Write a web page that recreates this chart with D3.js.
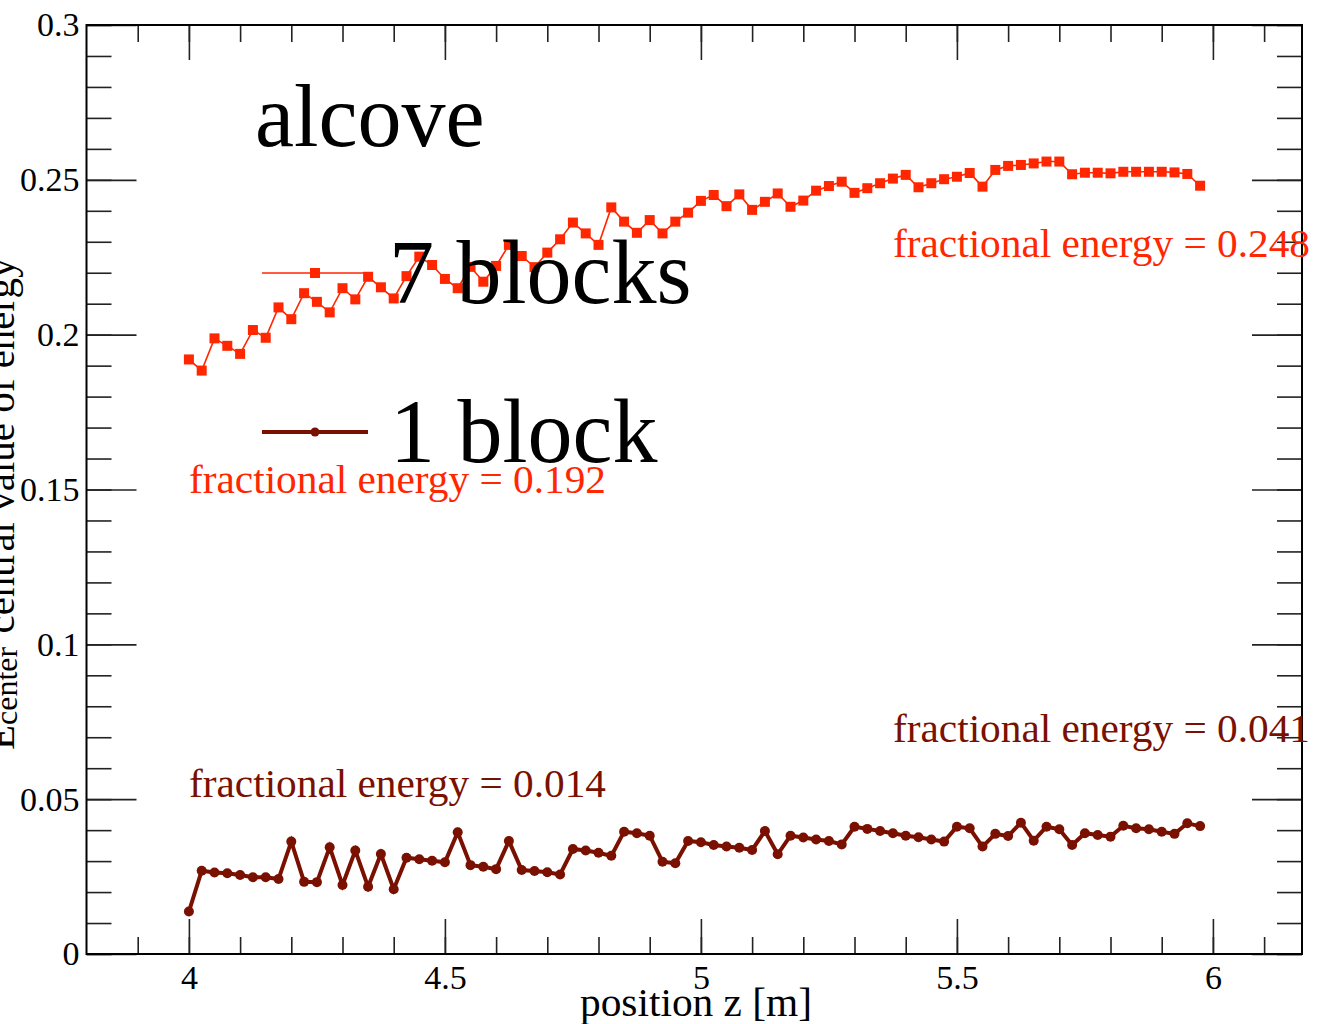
<!DOCTYPE html>
<html>
<head>
<meta charset="utf-8">
<script src="https://cdn.jsdelivr.net/npm/d3@7"></script>
<style>
  body { margin: 0; background: #fff; }
  text { font-family: "Liberation Serif", "Times New Roman", serif; }
  .axis path { display: none; }
  .axis line { stroke: #222; stroke-width: 1.6; }
  .axis text { font-size: 34px; fill: #000; font-family: "Liberation Serif", serif; }
</style>
</head>
<body>
<div id="chart"></div>
<script>
// positions z [m], one point every 0.025 m
const zPos = d3.range(80).map(i => 4 + i * 0.025);

// 7 blocks, central value of energy
const sevenBlocks = [
  0.1920, 0.1884, 0.1988, 0.1964, 0.1938, 0.2015, 0.1990, 0.2088, 0.2050, 0.2134,
  0.2106, 0.2072, 0.2150, 0.2114, 0.2187, 0.2153, 0.2117, 0.2189, 0.2252, 0.2225,
  0.2180, 0.2150, 0.2219, 0.2171, 0.2222, 0.2290, 0.2254, 0.2218, 0.2265, 0.2308,
  0.2362, 0.2327, 0.2290, 0.2411, 0.2365, 0.2329, 0.2370, 0.2327, 0.2365, 0.2394,
  0.2432, 0.2451, 0.2415, 0.2453, 0.2403, 0.2429, 0.2456, 0.2413, 0.2433, 0.2465,
  0.2480, 0.2494, 0.2458, 0.2473, 0.2489, 0.2504, 0.2516, 0.2476, 0.2489, 0.2502,
  0.2510, 0.2522, 0.2478, 0.2532, 0.2545, 0.2548, 0.2553, 0.2559, 0.2559, 0.2518,
  0.2523, 0.2523, 0.2521, 0.2526, 0.2526, 0.2526, 0.2526, 0.2524, 0.2519, 0.2481
];

// 1 block
const oneBlock = [
  0.0137, 0.0269, 0.0263, 0.0261, 0.0255, 0.0248, 0.0248, 0.0242, 0.0363, 0.0233,
  0.0232, 0.0345, 0.0223, 0.0334, 0.0217, 0.0323, 0.0209, 0.0311, 0.0306, 0.0301,
  0.0296, 0.0393, 0.0287, 0.0282, 0.0274, 0.0365, 0.0271, 0.0268, 0.0264, 0.0257,
  0.0339, 0.0334, 0.0327, 0.0317, 0.0395, 0.0390, 0.0382, 0.0298, 0.0293, 0.0365,
  0.0361, 0.0352, 0.0347, 0.0343, 0.0336, 0.0397, 0.0322, 0.0382, 0.0376, 0.0370,
  0.0365, 0.0354, 0.0411, 0.0404, 0.0397, 0.0390, 0.0382, 0.0377, 0.0370, 0.0363,
  0.0411, 0.0406, 0.0347, 0.0388, 0.0381, 0.0424, 0.0366, 0.0411, 0.0403, 0.0352,
  0.0390, 0.0384, 0.0379, 0.0414, 0.0406, 0.0403, 0.0395, 0.0388, 0.0422, 0.0413
];

const xMajor = [4, 4.5, 5, 5.5, 6];
const xMinor = d3.range(39, 62).map(d => d / 10);
const yMajor = [0, 0.05, 0.1, 0.15, 0.2, 0.25, 0.3];
const yMinor = d3.range(0, 31).map(d => d / 100);

const red = "#ff2600", dark = "#7a1000";

const W = 1318, H = 1024;
const svg = d3.select("#chart").append("svg")
  .attr("width", W).attr("height", H)
  .attr("viewBox", "0 0 " + W + " " + H);

const x = d3.scaleLinear().domain([3.8, 6.174]).range([86.5, 1302]);
const y = d3.scaleLinear().domain([0, 0.3]).range([954, 25]);
const fmt = d => d === 0 ? "0" : String(d);

// ticks on all four sides, pointing inwards
svg.append("g").attr("class", "axis").attr("transform", "translate(0,954)")
  .call(d3.axisBottom(x).tickValues(xMinor).tickSize(-17).tickFormat(""));
svg.append("g").attr("class", "axis").attr("transform", "translate(0,954)")
  .call(d3.axisBottom(x).tickValues(xMajor).tickSize(-35).tickPadding(11).tickFormat(fmt));
svg.append("g").attr("class", "axis").attr("transform", "translate(0,25)")
  .call(d3.axisTop(x).tickValues(xMinor).tickSize(-17).tickFormat(""));
svg.append("g").attr("class", "axis").attr("transform", "translate(0,25)")
  .call(d3.axisTop(x).tickValues(xMajor).tickSize(-35).tickFormat(""));

svg.append("g").attr("class", "axis").attr("transform", "translate(86.5,0)")
  .call(d3.axisLeft(y).tickValues(yMinor).tickSize(-25).tickFormat(""));
svg.append("g").attr("class", "axis").attr("transform", "translate(86.5,0)")
  .call(d3.axisLeft(y).tickValues(yMajor).tickSize(-50).tickPadding(7).tickFormat(fmt));
svg.append("g").attr("class", "axis").attr("transform", "translate(1302,0)")
  .call(d3.axisRight(y).tickValues(yMinor).tickSize(-25).tickFormat(""));
svg.append("g").attr("class", "axis").attr("transform", "translate(1302,0)")
  .call(d3.axisRight(y).tickValues(yMajor).tickSize(-50).tickFormat(""));

svg.append("rect")
  .attr("x", 86.5).attr("y", 25).attr("width", 1215.5).attr("height", 929)
  .attr("fill", "none").attr("stroke", "#000").attr("stroke-width", 2);

// axis titles
svg.append("text")
  .attr("x", 696).attr("y", 1016).attr("text-anchor", "middle")
  .attr("textLength", 232).attr("lengthAdjust", "spacingAndGlyphs")
  .style("font-size", "40px").text("position z [m]");

const yt = svg.append("text")
  .attr("transform", "translate(14,750) rotate(-90)")
  .style("font-size", "41px");
yt.append("tspan").text("E");
yt.append("tspan").attr("dy", 3).style("font-size", "32px").text("center");
yt.append("tspan").attr("dy", -3).attr("dx", 3).text(" central value of energy");

// series
const line = d3.line().x((d, i) => x(zPos[i])).y(d => y(d));

svg.append("path").datum(oneBlock)
  .attr("d", line).attr("fill", "none")
  .attr("stroke", dark).attr("stroke-width", 4);
svg.selectAll(".dot").data(oneBlock).enter().append("circle")
  .attr("class", "dot")
  .attr("cx", (d, i) => x(zPos[i])).attr("cy", d => y(d))
  .attr("r", 5).attr("fill", dark);

svg.append("path").datum(sevenBlocks)
  .attr("d", line).attr("fill", "none")
  .attr("stroke", red).attr("stroke-width", 1.6);
svg.selectAll(".sq").data(sevenBlocks).enter().append("rect")
  .attr("class", "sq")
  .attr("x", (d, i) => x(zPos[i]) - 5).attr("y", d => y(d) - 5)
  .attr("width", 10).attr("height", 10).attr("fill", red);

// legend
svg.append("text").attr("x", 255).attr("y", 146)
  .style("font-size", "88px").text("alcove");

svg.append("line").attr("x1", 262).attr("x2", 368).attr("y1", 273).attr("y2", 273)
  .attr("stroke", red).attr("stroke-width", 1.6);
svg.append("rect").attr("x", 310).attr("y", 268).attr("width", 10).attr("height", 10)
  .attr("fill", red);
svg.append("text").attr("x", 389).attr("y", 303)
  .style("font-size", "90px").text("7 blocks");

svg.append("line").attr("x1", 262).attr("x2", 368).attr("y1", 432).attr("y2", 432)
  .attr("stroke", dark).attr("stroke-width", 4);
svg.append("circle").attr("cx", 315).attr("cy", 432).attr("r", 4.5).attr("fill", dark);
svg.append("text").attr("x", 390).attr("y", 462)
  .style("font-size", "90px").text("1 block");

// annotations
const notes = [
  { t: "fractional energy = 0.248", x: 893, y: 257, c: red },
  { t: "fractional energy = 0.192", x: 189, y: 493, c: red },
  { t: "fractional energy = 0.041", x: 893, y: 742, c: dark },
  { t: "fractional energy = 0.014", x: 189, y: 797, c: dark }
];
svg.selectAll(".note").data(notes).enter().append("text")
  .attr("class", "note")
  .attr("x", d => d.x).attr("y", d => d.y)
  .attr("fill", d => d.c)
  .attr("textLength", 417).attr("lengthAdjust", "spacingAndGlyphs")
  .style("font-size", "40px")
  .text(d => d.t);
</script>
</body>
</html>
